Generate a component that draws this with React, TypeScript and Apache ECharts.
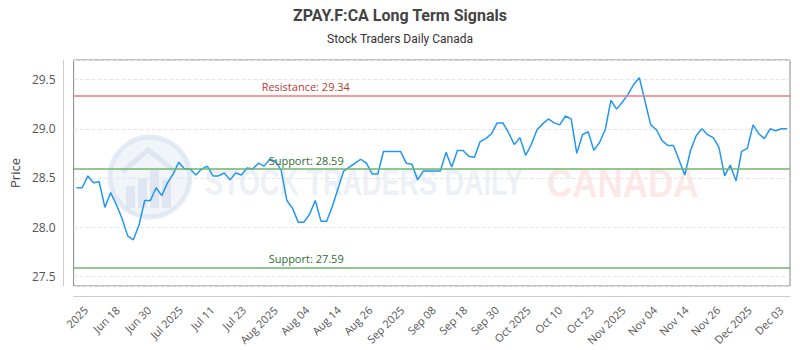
import React, { useEffect, useRef } from "react";
import * as echarts from "echarts";

const titleText = "ZPAY.F:CA Long Term Signals";
const subtitleText = "Stock Traders Daily Canada";

const tickLabels = [
  "2025", "Jun 18", "Jun 30", "Jul 2025", "Jul 11", "Jul 23", "Aug 2025", "Aug 04",
  "Aug 14", "Aug 26", "Sep 2025", "Sep 08", "Sep 18", "Sep 30", "Oct 2025", "Oct 10",
  "Oct 23", "Nov 2025", "Nov 04", "Nov 14", "Nov 26", "Dec 2025", "Dec 03",
];

const values = [
  28.40, 28.40, 28.52, 28.45, 28.46, 28.20, 28.35, 28.23, 28.09, 27.91,
  27.87, 28.02, 28.27, 28.27, 28.40, 28.32, 28.45, 28.54, 28.66, 28.59,
  28.59, 28.53, 28.59, 28.62, 28.52, 28.52, 28.55, 28.48, 28.55, 28.53,
  28.60, 28.59, 28.65, 28.62, 28.69, 28.67, 28.58, 28.27, 28.19, 28.05,
  28.05, 28.13, 28.27, 28.06, 28.06, 28.21, 28.39, 28.57, 28.61, 28.65,
  28.69, 28.65, 28.54, 28.54, 28.77, 28.77, 28.77, 28.77, 28.65, 28.64,
  28.48, 28.57, 28.57, 28.57, 28.57, 28.76, 28.61, 28.78, 28.78, 28.72,
  28.71, 28.87, 28.90, 28.95, 29.06, 29.06, 28.96, 28.84, 28.91, 28.73,
  28.84, 28.99, 29.05, 29.10, 29.06, 29.04, 29.13, 29.10, 28.75, 28.94,
  28.97, 28.78, 28.86, 28.99, 29.29, 29.20, 29.27, 29.35, 29.45, 29.52,
  29.28, 29.04, 28.99, 28.88, 28.83, 28.83, 28.68, 28.53, 28.78, 28.93,
  29.00, 28.94, 28.91, 28.81, 28.52, 28.63, 28.47, 28.77, 28.80, 29.04,
  28.95, 28.90, 29.00, 28.98, 29.00, 29.00,
];

const categories = values.map((_, i) => String(i));

const resistance = 29.34;
const supports = [28.59, 27.59];

const yMin = 27.4;
const yMax = 29.7;

export default function App() {
  const ref = useRef<HTMLDivElement>(null);

  useEffect(() => {
    document.body.style.margin = "0";
    if (!ref.current) return;
    const chart = echarts.init(ref.current, null, { renderer: "svg" });

    const markLabel = (color: string, dx: number) => ({
      show: true,
      position: "insideStartTop",
      distance: [dx, 3],
      color,
      fontSize: 11,
      fontFamily: "Open Sans",
    });

    const option: any = {
      animation: false,
      backgroundColor: "#fff",
      title: {
        text: titleText,
        subtext: subtitleText,
        left: "center",
        top: 2,
        itemGap: 10,
        textStyle: { fontSize: 16, fontWeight: "bold", color: "#444", fontFamily: "Roboto" },
        subtextStyle: { fontSize: 12, color: "#333", fontFamily: "Roboto" },
      },
      graphic: [
        {
          type: "group",
          silent: true,
          z: 0,
          children: [
            { type: "circle", shape: { cx: 150, cy: 177, r: 40 }, style: { fill: "rgba(225,232,244,0.45)", stroke: "rgba(210,220,236,0.55)", lineWidth: 5 } },
            { type: "rect", shape: { x: 126, y: 186, width: 9, height: 22 }, style: { fill: "rgba(205,215,232,0.5)" } },
            { type: "rect", shape: { x: 138, y: 178, width: 9, height: 30 }, style: { fill: "rgba(205,215,232,0.5)" } },
            { type: "rect", shape: { x: 150, y: 170, width: 9, height: 38 }, style: { fill: "rgba(205,215,232,0.5)" } },
            { type: "rect", shape: { x: 162, y: 180, width: 9, height: 28 }, style: { fill: "rgba(205,215,232,0.5)" } },
            { type: "polyline", shape: { points: [[122, 172], [148, 150], [176, 172]] }, style: { stroke: "rgba(205,215,232,0.5)", lineWidth: 5, fill: null } },
            {
              type: "text",
              x: 205,
              y: 182,
              scaleY: 1.35,
              style: { text: "STOCK TRADERS DAILY", font: "bold 27px 'Liberation Sans'", fill: "rgba(200,212,232,0.35)", textVerticalAlign: "middle" },
            },
            {
              type: "text",
              x: 547,
              y: 183,
              scaleY: 1.15,
              style: { text: "CANADA", font: "bold 35px 'Liberation Sans'", fill: "rgba(250,190,190,0.35)", textVerticalAlign: "middle" },
            },
          ],
        },
      ],
      grid: [
        { left: 70, top: 60, right: 10, bottom: 64, show: true, borderColor: "#888", borderWidth: 1, backgroundColor: "transparent" },
        { left: 70, top: 60, right: 3, bottom: 64, show: false },
      ],
      xAxis: [
        {
          type: "category",
          gridIndex: 0,
          data: categories,
          boundaryGap: true,
          position: "bottom",
          offset: 10,
          axisLine: { show: true, lineStyle: { color: "#ccc" } },
          axisTick: { show: false },
          axisLabel: { show: false },
          splitLine: { show: false },
        },
        {
          type: "category",
          gridIndex: 1,
          data: tickLabels,
          boundaryGap: true,
          position: "bottom",
          offset: 10,
          axisLine: { show: false },
          axisTick: { show: false },
          splitLine: { show: false },
          axisLabel: { interval: 0, rotate: 45, margin: 12, fontSize: 11, color: "#555", fontFamily: "Open Sans" },
        },
      ],
      yAxis: [
        {
          type: "value",
          gridIndex: 0,
          min: yMin,
          max: yMax,
          position: "left",
          offset: 10,
          name: "Price",
          nameLocation: "middle",
          nameGap: 38,
          nameTextStyle: { fontSize: 13, color: "#444", fontFamily: "Open Sans" },
          axisLine: { show: true, lineStyle: { color: "#ccc" } },
          axisTick: { show: false },
          axisLabel: {
            showMinLabel: false,
            showMaxLabel: false,
            fontSize: 12,
            color: "#555",
            fontFamily: "Open Sans",
            formatter: (v: number) => v.toFixed(1),
          },
          splitLine: { show: true, lineStyle: { color: "#e6e6e6", type: "dashed" } },
        },
        { type: "value", gridIndex: 1, show: false },
      ],
      series: [
        {
          type: "line",
          xAxisIndex: 0,
          yAxisIndex: 0,
          data: values,
          showSymbol: false,
          symbol: "none",
          lineStyle: { color: "#2196f3", width: 1.5 },
          itemStyle: { color: "#2196f3" },
          z: 3,
          markLine: {
            silent: true,
            symbol: "none",
            animation: false,
            data: [
              {
                yAxis: resistance,
                lineStyle: { color: "rgba(240,120,120,0.75)", width: 2, type: "solid" },
                label: { ...markLabel("#b83a32", 188), formatter: `Resistance: ${resistance}` },
              },
              ...supports.map((s) => ({
                yAxis: s,
                lineStyle: { color: "rgba(110,180,110,0.75)", width: 2, type: "solid" },
                label: { ...markLabel("#2f6e2f", 195), formatter: `Support: ${s}` },
              })),
            ],
          },
        },
      ],
    };

    chart.setOption(option);
    return () => chart.dispose();
  }, []);

  return <div ref={ref} style={{ width: 800, height: 350 }} />;
}
